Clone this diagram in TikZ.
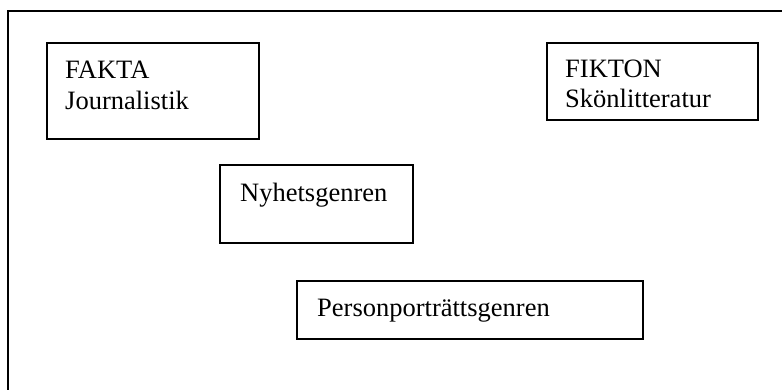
\documentclass[tikz,border=0pt]{standalone}
\usepackage{fontspec}
\setmainfont{Liberation Serif}
\usetikzlibrary{positioning}

\tikzset{
    ruta/.style={draw, line width=2pt, inner sep=0pt, anchor=north west},
    etikett/.style={inner sep=0pt, anchor=base west, font=\fontsize{26.5}{31}\selectfont}
}

\begin{document}
\begin{tikzpicture}[x=1pt, y=1pt]

        \useasboundingbox (0,0) rectangle (782,390);

        % Outer frame (only top and left side shown)
        \coordinate (ramA) at (8,0);
        \coordinate (ramB) at (8,379);
        \coordinate (ramC) at (782,379);
        \draw[line width=2pt] (ramA) -- (ramB) -- (ramC);

        % Boxes
        \node[ruta, minimum width=212pt, minimum height=96pt] (fakta) at (46,348) {};
        \node[ruta, minimum width=211pt, minimum height=77pt] (fikton) at (546,348) {};
        \node[ruta, minimum width=193pt, minimum height=78pt] (nyhet) at (219,226) {};
        \node[ruta, minimum width=346pt, minimum height=58pt] (person) at (296,110) {};

        % Texts
        \node[etikett] (faktaA) at (65,311) {FAKTA};
        \node[etikett] (faktaB) at ([yshift=-31pt]faktaA.base west) {Journalistik};

        \node[etikett] (fiktonA) at (565,312) {FIKTON};
        \node[etikett] (fiktonB) at ([yshift=-30pt]fiktonA.base west) {Skönlitteratur};

        \node[etikett] (nyhetText) at (240,188) {Nyhetsgenren};
        \node[etikett] (personText) at (317,73) {Personporträttsgenren};

\end{tikzpicture}
\end{document}
